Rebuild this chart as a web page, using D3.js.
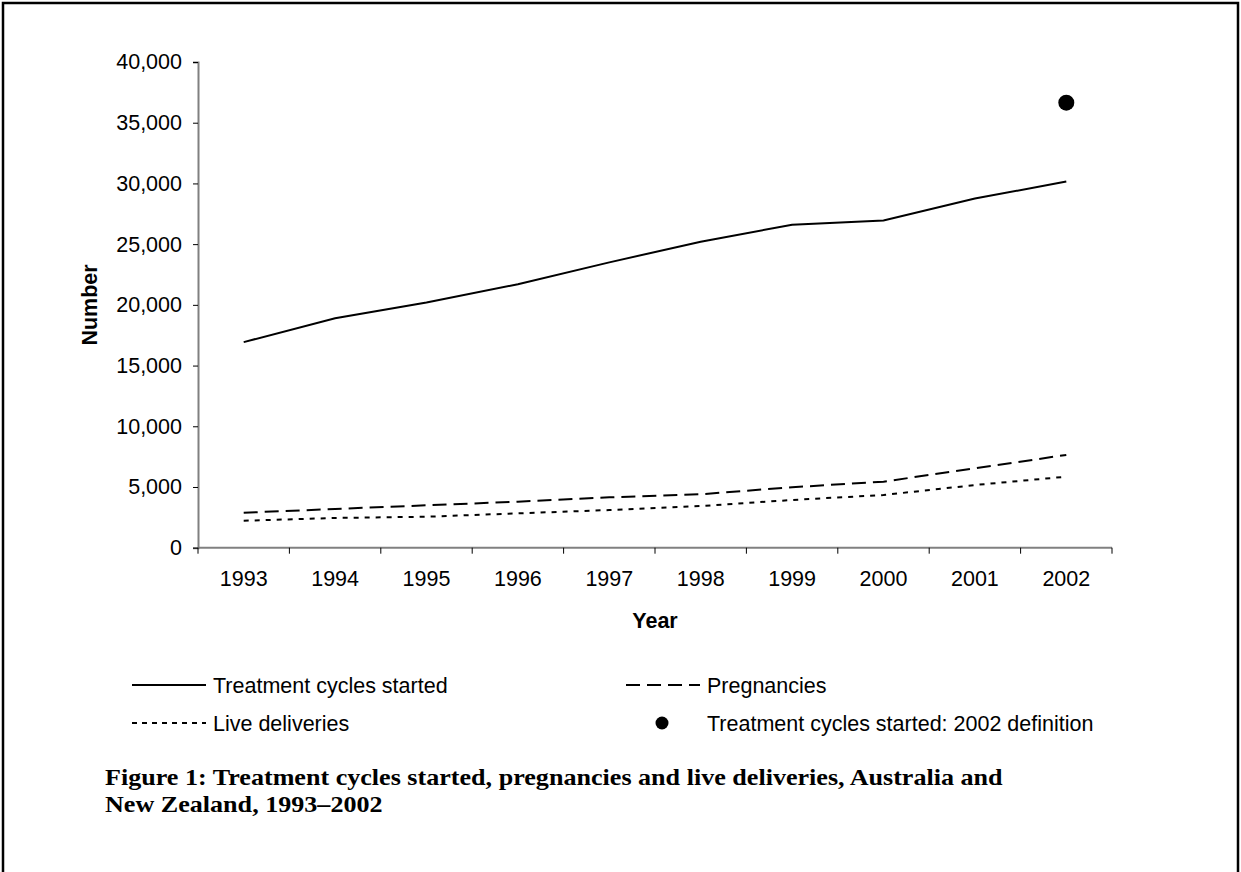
<!DOCTYPE html>
<html>
<head>
<meta charset="utf-8">
<script src="https://cdn.jsdelivr.net/npm/d3@7"></script>
<style>
  body { margin: 0; background: #fff; }
  svg text { font-family: "Liberation Sans", Arial, sans-serif; fill: #000; }
</style>
</head>
<body>
<svg id="chart" width="1241" height="872"></svg>
<script>
// data
const years = ["1993", "1994", "1995", "1996", "1997", "1998", "1999", "2000", "2001", "2002"];
const treatmentCycles = [16930, 18900, 20200, 21700, 23500, 25200, 26600, 26950, 28750, 30150];
const pregnancies = [2880, 3190, 3490, 3790, 4150, 4400, 4980, 5440, 6540, 7640];
const liveDeliveries = [2220, 2450, 2550, 2830, 3100, 3430, 3930, 4340, 5160, 5850];
const newDefinition = { year: "2002", value: 36650 };
const yTicks = [0, 5000, 10000, 15000, 20000, 25000, 30000, 35000, 40000];

const series = [
  { name: "Treatment cycles started", values: treatmentCycles, dash: null },
  { name: "Pregnancies", values: pregnancies, dash: "14,7" },
  { name: "Live deliveries", values: liveDeliveries, dash: "5,6" },
];

const svg = d3.select("#chart");

// frame round the figure
svg.append("path")
  .attr("d", "M3,872 V3 H1238 V872")
  .attr("fill", "none")
  .attr("stroke", "#000")
  .attr("stroke-width", 2.5);

const x = d3.scaleBand().domain(years).range([198, 1112]).padding(0);
const y = d3.scaleLinear().domain([0, 40000]).range([547.7, 62]);
const xc = (d) => x(d) + x.bandwidth() / 2;

// y axis
const yAxis = svg.append("g")
  .attr("transform", "translate(198,0)")
  .call(d3.axisLeft(y).tickValues(yTicks).tickFormat(d3.format(",")).tickSize(5).tickPadding(11));
yAxis.select(".domain").attr("stroke", "#808080").attr("stroke-width", 2);
yAxis.selectAll(".tick line").attr("stroke", "#000").attr("stroke-width", 1);
yAxis.selectAll(".tick text")
  .style("font-size", "21.5px")
  .style("font-family", "Liberation Sans, Arial, sans-serif")
  .attr("fill", "#000");

// x axis: labels at band centres, ticks at band edges
const xg = svg.append("g").attr("transform", "translate(0,547.7)");
xg.append("line")
  .attr("x1", 198).attr("x2", 1112)
  .attr("stroke", "#808080").attr("stroke-width", 2);
const edges = years.map((d) => x(d)).concat([x(years[years.length - 1]) + x.bandwidth()]);
xg.selectAll("line.tick")
  .data(edges)
  .join("line")
  .attr("class", "tick")
  .attr("x1", (d) => d).attr("x2", (d) => d)
  .attr("y1", 0).attr("y2", 6)
  .attr("stroke", "#000");
xg.selectAll("text")
  .data(years)
  .join("text")
  .attr("x", xc)
  .attr("y", 38)
  .attr("text-anchor", "middle")
  .style("font-size", "21.5px")
  .text((d) => d);

// axis titles
svg.append("text")
  .attr("x", 655).attr("y", 628)
  .attr("text-anchor", "middle")
  .style("font-size", "21.5px").style("font-weight", "bold")
  .text("Year");
svg.append("text")
  .attr("transform", "translate(97,305) rotate(-90)")
  .attr("text-anchor", "middle")
  .style("font-size", "21.5px").style("font-weight", "bold")
  .text("Number");

// lines
const line = d3.line().x((d, i) => xc(years[i])).y((d) => y(d));
svg.selectAll("path.series")
  .data(series)
  .join("path")
  .attr("class", "series")
  .attr("d", (d) => line(d.values))
  .attr("fill", "none")
  .attr("stroke", "#000")
  .attr("stroke-width", 2)
  .attr("stroke-dasharray", (d) => d.dash);

svg.append("circle")
  .attr("cx", xc(newDefinition.year))
  .attr("cy", y(newDefinition.value))
  .attr("r", 8)
  .attr("fill", "#000");

// legend
const legendItems = [
  { name: "Treatment cycles started", dash: null, x: 132, y: 685 },
  { name: "Pregnancies", dash: "14,7", x: 626, y: 685 },
  { name: "Live deliveries", dash: "5,5", x: 132, y: 723 },
];
const lg = svg.append("g");
const item = lg.selectAll("g").data(legendItems).join("g")
  .attr("transform", (d) => `translate(${d.x},${d.y})`);
item.append("line")
  .attr("x1", 0).attr("x2", 74)
  .attr("stroke", "#000").attr("stroke-width", 2)
  .attr("stroke-dasharray", (d) => d.dash);
item.append("text")
  .attr("x", 81).attr("dy", "0.35em")
  .style("font-size", "21.5px")
  .text((d) => d.name);
const dotItem = lg.append("g").attr("transform", "translate(626,723)");
dotItem.append("circle").attr("cx", 36).attr("r", 6.5).attr("fill", "#000");
dotItem.append("text")
  .attr("x", 81).attr("dy", "0.35em")
  .style("font-size", "21.5px")
  .text("Treatment cycles started: 2002 definition");

// caption, squeezed so the first line spans the same width as the original
const caption = svg.append("g").attr("transform", "translate(105,0)");
const capLines = caption.selectAll("text")
  .data(["Figure 1: Treatment cycles started, pregnancies and live deliveries, Australia and",
         "New Zealand, 1993–2002"])
  .join("text")
  .attr("x", 0)
  .attr("y", (d, i) => 785 + i * 27)
  .style("font-family", "'Book Antiqua', Palatino, 'Liberation Serif', serif")
  .style("font-weight", "bold")
  .style("font-size", "24px")
  .text((d) => d);
const k = 898 / capLines.nodes()[0].getComputedTextLength();
capLines.attr("transform", (d, i) => `translate(0,${785 + i * 27}) scale(${k},1) translate(0,${-(785 + i * 27)})`);
</script>
</body>
</html>
